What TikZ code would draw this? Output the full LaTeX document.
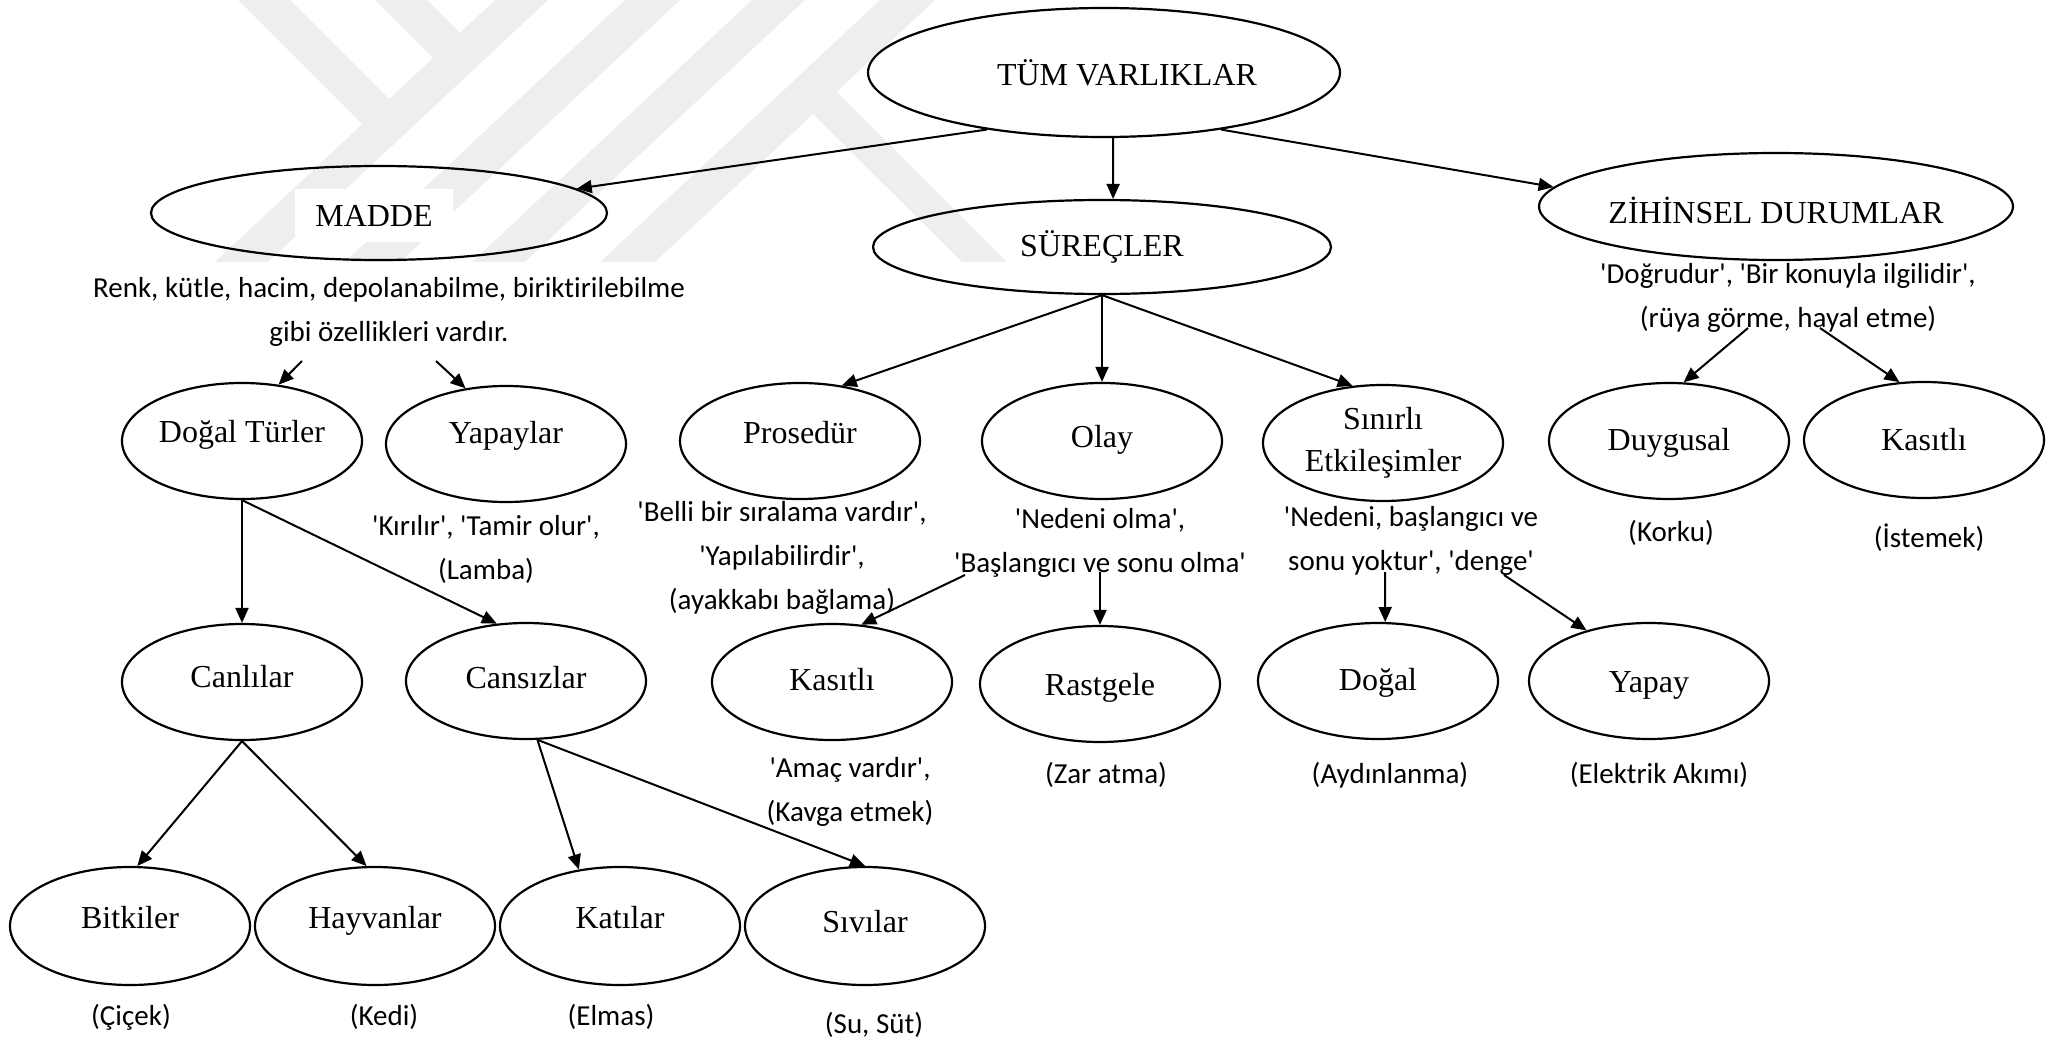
\documentclass[tikz,border=0pt]{standalone}
\usepackage{fontspec}
\setmainfont{Liberation Serif}
\newfontfamily\notefont{Carlito}[Ligatures=NoCommon]
\usepackage{tikz}
\usetikzlibrary{shapes.geometric,arrows.meta}
\definecolor{wmark}{RGB}{238,238,238}

\begin{document}
\begin{tikzpicture}[x=1pt,y=-1pt,
	kutu/.style={ellipse,draw,line width=2.2pt,inner sep=0pt,font=\fontsize{32}{42}\selectfont,align=center},
	halka/.style={kutu,minimum width=240pt,minimum height=116pt,text height=22pt,text depth=#1},
	halka/.default=18pt,
	acik/.style={font=\notefont\fontsize{29}{44}\selectfont,align=center,inner sep=0pt},
	ok/.style={line width=2pt,-{Triangle[length=15pt,width=13pt]}}]
			\useasboundingbox (0,0) rectangle (2049,1040);
			% filigran
			\fill[wmark] (238,0) -- (290,0) -- (389,99) -- (362,124) -- cycle;
			\fill[wmark] (375,0) -- (427,0) -- (460,33) -- (433,58) -- cycle;
			\fill[wmark] (495,0) -- (548,0) -- (268,262) -- (215,262) -- cycle;
			\fill[wmark] (625,0) -- (680,0) -- (400,262) -- (345,262) -- cycle;
			\fill[wmark] (752,0) -- (805,0) -- (525,262) -- (472,262) -- cycle;
			\fill[wmark] (880,0) -- (935,0) -- (655,262) -- (600,262) -- cycle;
			\fill[wmark] (813,114) -- (837,92) -- (1007,262) -- (962,262) -- cycle;

			\node[kutu,minimum width=472pt,minimum height=129pt,label={[xshift=23pt,font=\fontsize{32}{42}\selectfont]center:TÜM VARLIKLAR}] (tum) at (1104,72.5) {};
			\node[kutu,minimum width=456pt,minimum height=94pt,label={[xshift=-5pt,yshift=-2.5pt,fill=white,minimum width=158pt,minimum height=53pt,font=\fontsize{32}{42}\selectfont]center:MADDE}] (madde) at (379,213) {};
			\node[kutu,minimum width=458pt,minimum height=94pt] (surec) at (1102,247) {SÜREÇLER};
			\node[kutu,minimum width=458pt,minimum height=107pt,text height=34pt,text depth=0pt] (zihin) at (1776,206.5) {ZİHİNSEL DURUMLAR};

			\node[halka=20pt] (dturler) at (242,441) {Doğal Türler};
			\node[halka=24pt] (yapaylar) at (506,444) {Yapaylar};
			\node[halka] (prosedur) at (800,441) {Prosedür};
			\node[halka=10pt] (olay) at (1102,441) {Olay};
			\node[kutu,minimum width=240pt,minimum height=116pt] (sinirli) at (1383,443) {Sınırlı\\Etkileşimler};
			\node[halka=4pt] (duygu) at (1669,441) {Duygusal};
			\node[halka=2pt] (kasitli) at (1924,440) {Kasıtlı};

			\node[halka=12pt] (canli) at (242,682) {Canlılar};
			\node[halka=8pt] (cansiz) at (526,681) {Cansızlar};
			\node[halka=6pt] (kasitlib) at (832,682) {Kasıtlı};
			\node[halka=0pt] (rastgele) at (1100,684) {Rastgele};
			\node[halka=4pt] (dogal) at (1378,681) {Doğal};
			\node[halka=0pt] (yapay) at (1649,681) {Yapay};

			\node[halka,minimum height=118pt] (bitki) at (130,926) {Bitkiler};
			\node[halka,minimum height=118pt] (hayvan) at (375,926) {Hayvanlar};
			\node[halka,minimum height=118pt] (kati) at (620,926) {Katılar};
			\node[halka=10pt,minimum height=118pt] (sivi) at (865,926) {Sıvılar};

			\node[acik] (maddeacik) at (389,312) {Renk, kütle, hacim, depolanabilme, biriktirilebilme\\gibi özellikleri vardır.};
			\node[acik] (zihinacik) at (1788,298) {'Doğrudur', 'Bir konuyla ilgilidir',\\(rüya görme, hayal etme)};
			\node[acik] (yapaylaracik) at (486,549) {'Kırılır', 'Tamir olur',\\(Lamba)};
			\node[acik] (prosedüracik) at (782,558) {'Belli bir sıralama vardır',\\'Yapılabilirdir',\\(ayakkabı bağlama)};
			\node[acik] (olayacik) at (1100,543) {'Nedeni olma',\\'Başlangıcı ve sonu olma'};
			\node[acik] (sinirliacik) at (1411,541) {'Nedeni, başlangıcı ve\\sonu yoktur', 'denge'};
			\node[acik] (duyguacik) at (1671,533) {(Korku)};
			\node[acik] (kasitliacik) at (1929,538) {(İstemek)};
			\node[acik] (kasitlibacik) at (850,792) {'Amaç vardır',\\(Kavga etmek)};
			\node[acik] (rastgeleacik) at (1106,775) {(Zar atma)};
			\node[acik] (dogalacik) at (1390,775) {(Aydınlanma)};
			\node[acik] (yapayacik) at (1659,775) {(Elektrik Akımı)};
			\node[acik] (bitkiacik) at (131,1017) {(Çiçek)};
			\node[acik] (hayvanacik) at (384,1017) {(Kedi)};
			\node[acik] (katiacik) at (611,1017) {(Elmas)};
			\node[acik] (siviacik) at (874,1025) {(Su, Süt)};

			\coordinate (ma) at (302,361);
			\coordinate (mb) at (436,361);
			\coordinate (za) at (1748,328);
			\coordinate (zb) at (1820,328);
			\coordinate (oa) at (965,575);
			\coordinate (ob) at (1100,572);
			\coordinate (sa) at (1385,572);
			\coordinate (sb) at (1504,575);

			\draw[ok] (tum.206) -- (madde.7);
			\draw[ok] (tum.-82) -- (surec.77);
			\draw[ok] (tum.-26) -- (zihin.175);
			\draw[ok] (ma) -- (dturler.57);
			\draw[ok] (mb) -- (yapaylar.126);
			\draw[ok] (surec.south) -- (prosedur.53);
			\draw[ok] (surec.south) -- (olay.north);
			\draw[ok] (surec.south) -- (sinirli.118);
			\draw[ok] (za) -- (duygu.76);
			\draw[ok] (zb) -- (kasitli.113);
			\draw[ok] (dturler.south) -- (canli.north);
			\draw[ok] (dturler.south) -- (cansiz.117);
			\draw[ok] (oa) -- (kasitlib.63);
			\draw[ok] (ob) -- (rastgele.north);
			\draw[ok] (sa) -- (dogal.83);
			\draw[ok] (sb) -- (yapay.141);
			\draw[ok] (canli.south) -- (bitki.83);
			\draw[ok] (canli.south) -- (hayvan.98);
			\draw[ok] (cansiz.-79) -- (kati.126);
			\draw[ok] (cansiz.-79) -- (sivi.north);
		\end{tikzpicture}
\end{document}
